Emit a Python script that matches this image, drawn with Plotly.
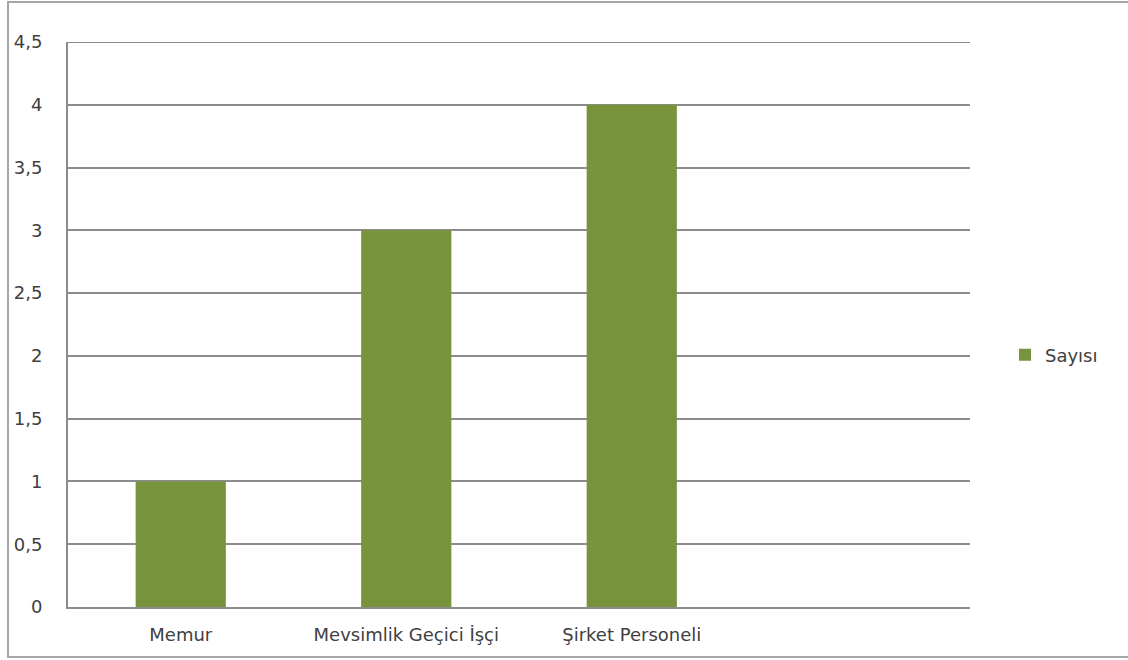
import plotly.graph_objects as go

categories = ["Memur", "Mevsimlik Geçici İşçi", "Şirket Personeli"]
values = [1, 3, 4]
series_name = "Sayısı"
y_tick_vals = [0, 0.5, 1, 1.5, 2, 2.5, 3, 3.5, 4, 4.5]
y_tick_text = ["0", "0,5", "1", "1,5", "2", "2,5", "3", "3,5", "4", "4,5"]

W, H = 1128, 660
L, R, T, B = 68, 158, 42, 53
pw, ph = W - L - R, H - T - B

def px_x(x):
    return (x - L) / pw

def px_y(y):
    return (H - B - y) / ph

fig = go.Figure()
fig.add_trace(go.Bar(
    x=categories, y=values, name=series_name,
    marker=dict(color="#77933C", line=dict(width=0)),
    width=0.4,
))

font_family = "DejaVu Sans, sans-serif"
txt = "#404040"
fs = 18
fig.update_layout(
    width=W, height=H,
    margin=dict(l=L, r=R, t=T, b=B),
    paper_bgcolor="white", plot_bgcolor="white",
    font=dict(family=font_family, size=fs, color=txt),
    showlegend=True,
    legend=dict(x=px_x(1005), y=px_y(355), xanchor="left", yanchor="middle",
                font=dict(size=fs, color=txt), itemwidth=30,
                bgcolor="rgba(0,0,0,0)"),
    xaxis=dict(
        type="category", range=[-0.5, 3.5],
        showline=True, linecolor="#8c8c8c", linewidth=2,
        showgrid=False, ticks="", ticklabelstandoff=10,
        tickfont=dict(size=fs, color=txt),
        fixedrange=True,
    ),
    yaxis=dict(
        range=[0, 4.5], tickvals=y_tick_vals, ticktext=y_tick_text,
        showline=True, linecolor="#8c8c8c", linewidth=2,
        showgrid=True, gridcolor="#8c8c8c", gridwidth=2,
        zeroline=False, ticks="", ticklabelstandoff=20,
        tickfont=dict(size=fs, color=txt),
        fixedrange=True,
    ),
    shapes=[
        dict(type="rect", xref="paper", yref="paper",
             x0=px_x(8), x1=px_x(1140), y0=px_y(657), y1=px_y(2),
             line=dict(color="#a6a6a6", width=2), fillcolor="rgba(0,0,0,0)",
             layer="below"),
        dict(type="line", xref="paper", yref="y",
             x0=0, x1=1, y0=y_tick_vals[-1], y1=y_tick_vals[-1],
             line=dict(color="#8c8c8c", width=2), layer="below"),
    ],
)

fig.write_html("out.html", config={"displayModeBar": False})
